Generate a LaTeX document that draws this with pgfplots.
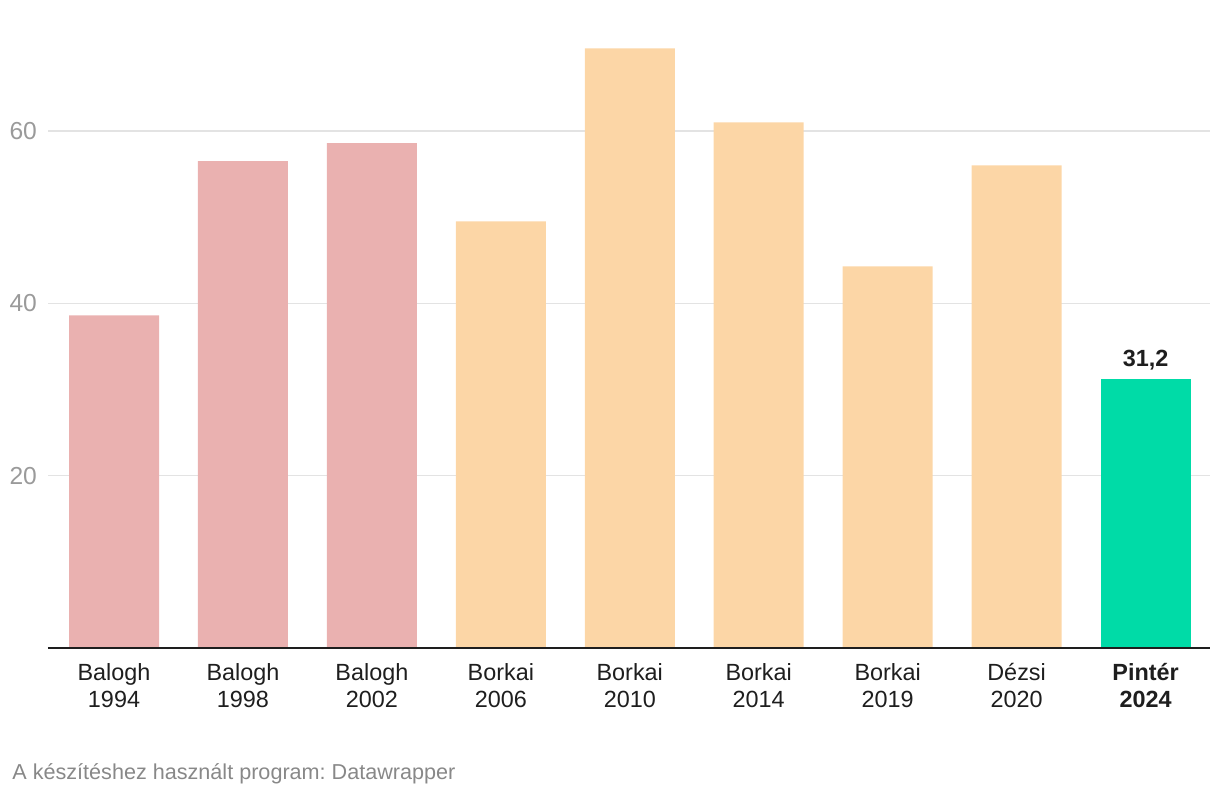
\documentclass[border=0pt]{standalone}
\usepackage{fontspec}
\setmainfont{Liberation Sans}
\usepackage{pgfplots}
\pgfplotsset{compat=1.18}
\frenchspacing
\definecolor{balogh}{HTML}{EAB1B0}
\definecolor{borkai}{HTML}{FCD6A6}
\definecolor{pinter}{HTML}{00DBA7}
\definecolor{gridc}{HTML}{E3E3E3}
\definecolor{tickc}{HTML}{9A9A9A}
\definecolor{labc}{HTML}{1E1E1E}
\definecolor{footc}{HTML}{888888}
\begin{document}
\begin{tikzpicture}
\path[use as bounding box] (0,0) rectangle (610pt,398pt);
\begin{axis}[
  at={(24pt,74pt)}, anchor=south west,
  scale only axis,
  width=581pt, height=310.2pt,
  xmin=-0.512, xmax=8.5,
  ymin=0, ymax=72,
  ybar, bar width=45pt, bar shift=0pt,
  axis line style={draw=none},
  ytick={20,40,60},
  ymajorgrids, grid style={gridc, line width=0.8pt},
  major tick length=0pt,
  yticklabel style={font=\fontsize{12.3}{14}\selectfont, text=tickc, xshift=-2pt},
  /pgf/number format/assume math mode=true,
  xtick={0,...,8},
  xticklabels={{Balogh\\1994},{Balogh\\1998},{Balogh\\2002},{Borkai\\2006},{Borkai\\2010},{Borkai\\2014},{Borkai\\2019},{Dézsi\\2020},{\textbf{Pintér}\\\textbf{2024}}},
  xticklabel style={align=center, font=\fontsize{11.7}{13.6}\selectfont, text=labc, yshift=-4pt},
  clip=false,
]
\addplot[fill=balogh, draw=none] coordinates {(0,38.6) (1,56.5) (2,58.6)};
\addplot[fill=borkai, draw=none] coordinates {(3,49.5) (4,69.6) (5,61.0) (6,44.3) (7,56.0)};
\addplot[fill=pinter, draw=none, nodes near coords={\textbf{31,2}},
  nodes near coords style={font=\fontsize{11.7}{13.6}\selectfont, text=labc, yshift=1pt}] coordinates {(8,31.2)};
\draw[line width=1.1pt, labc] (axis cs:-0.512,0) -- (axis cs:8.5,0);
\end{axis}
\node[anchor=base west, font=\fontsize{10.8}{12}\selectfont, text=footc, inner sep=0pt] at (6pt,8pt) {A készítéshez használt program: Datawrapper};
\end{tikzpicture}
\end{document}
